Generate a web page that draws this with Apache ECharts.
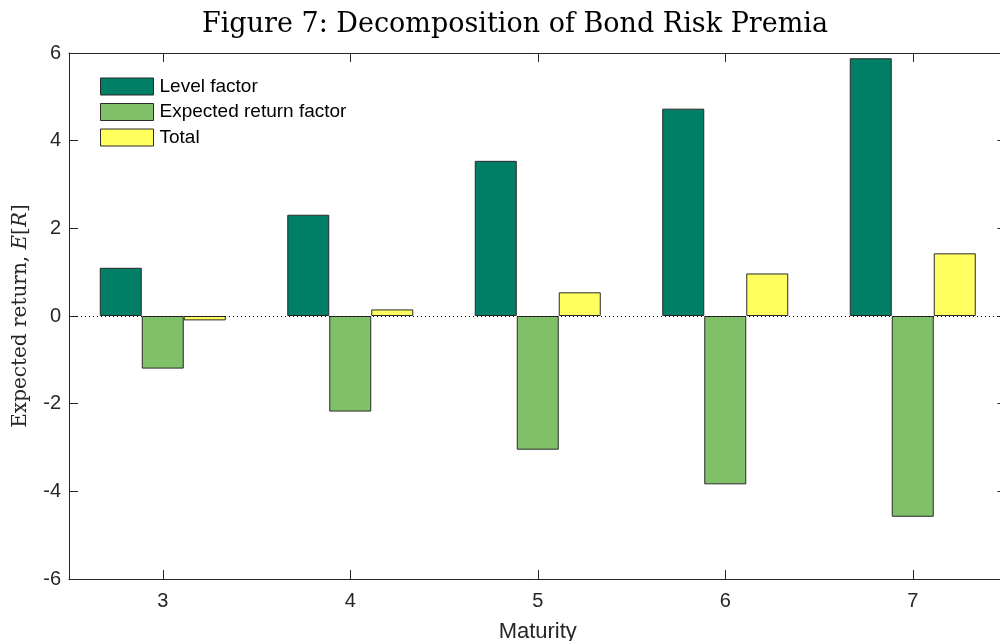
<!DOCTYPE html>
<html><head><meta charset="utf-8">
<script src="https://cdn.jsdelivr.net/npm/echarts@6/dist/echarts.min.js"></script>
<style>html,body{margin:0;padding:0;background:#fff}#c{width:1000px;height:641px}</style>
</head><body><div id="c"></div>
<script>
const categories = ['3','4','5','6','7'];
const levelFactor = [1.10, 2.31, 3.54, 4.73, 5.88];
const expectedReturnFactor = [-1.20, -2.18, -3.05, -3.84, -4.58];
const total = [-0.10, 0.15, 0.54, 0.97, 1.43];
const yTicks = [-6, -4, -2, 0, 2, 4, 6];

const chart = echarts.init(document.getElementById('c'), null, {renderer: 'canvas'});
const axisColor = '#262626';
const barBorder = {borderColor: '#2a2a2a', borderWidth: 1};
const tick = {show: true, inside: true, length: 9, lineStyle: {color: axisColor, width: 1}};
chart.setOption({
  animation: false,
  backgroundColor: '#fff',
  title: {
    text: 'Figure 7: Decomposition of Bond Risk Premia',
    left: 510, top: 6, textAlign: 'center',
    textStyle: {fontFamily: 'DejaVu Serif', fontWeight: 'normal', fontSize: 27, color: '#000'}
  },
  legend: {
    orient: 'vertical', left: 100, top: 77, padding: 0,
    itemWidth: 53, itemHeight: 17, itemGap: 6.5,
    icon: 'rect',
    itemStyle: {borderWidth: 1, borderColor: '#2a2a2a'},
    textStyle: {fontFamily: 'Liberation Sans', fontSize: 19, color: '#000', lineHeight: 17, padding: [0,0,0,1]},
    data: ['Level factor', 'Expected return factor', 'Total']
  },
  grid: {left: 69, right: -6.5, top: 53, bottom: 62, containLabel: false, outerBoundsMode: 'none'},
  xAxis: [{
    type: 'category', data: categories, position: 'bottom',
    name: 'Maturity', nameLocation: 'middle', nameGap: 42,
    nameTextStyle: {fontFamily: 'Liberation Sans', fontSize: 22, color: axisColor},
    axisLine: {show: true, onZero: false, lineStyle: {color: axisColor, width: 1}},
    axisTick: Object.assign({alignWithLabel: true}, tick),
    axisLabel: {fontFamily: 'Liberation Sans', fontSize: 20, color: axisColor, margin: 12},
    splitLine: {show: false}
  }, {
    type: 'category', data: categories, position: 'top',
    axisLine: {show: true, onZero: false, lineStyle: {color: axisColor, width: 1}},
    axisTick: Object.assign({alignWithLabel: true}, tick),
    axisLabel: {show: false}, splitLine: {show: false}
  }],
  yAxis: [{
    type: 'value', min: -6, max: 6, interval: 2, position: 'left',
    name: '{n|Expected return, }{i|E}{n|[}{i|R}{n|]}',
    nameLocation: 'middle', nameGap: 38, nameRotate: 90,
    nameTextStyle: {
      rich: {
        n: {fontFamily: 'DejaVu Serif', fontSize: 20, color: axisColor},
        i: {fontFamily: 'DejaVu Serif', fontStyle: 'italic', fontSize: 20, color: axisColor}
      }
    },
    axisLine: {show: true, onZero: false, lineStyle: {color: axisColor, width: 1}},
    axisTick: tick,
    axisLabel: {fontFamily: 'Liberation Sans', fontSize: 20, color: axisColor, margin: 8,
      formatter: v => yTicks.includes(v) ? String(v) : ''},
    splitLine: {show: false}
  }, {
    type: 'value', min: -6, max: 6, interval: 2, position: 'right',
    axisLine: {show: true, onZero: false, lineStyle: {color: axisColor, width: 1}},
    axisTick: tick,
    axisLabel: {show: false}, splitLine: {show: false}
  }],
  series: [{
    name: 'Level factor', type: 'bar', data: levelFactor, barWidth: 42, barGap: '0%',
    itemStyle: Object.assign({color: '#007f66'}, barBorder),
    markLine: {
      silent: true, symbol: 'none', label: {show: false},
      lineStyle: {type: [1, 3], color: '#000', width: 1},
      data: [{yAxis: 0}]
    }
  }, {
    name: 'Expected return factor', type: 'bar', data: expectedReturnFactor, barWidth: 42, barGap: '0%',
    itemStyle: Object.assign({color: '#80c068'}, barBorder)
  }, {
    name: 'Total', type: 'bar', data: total, barWidth: 42, barGap: '0%',
    itemStyle: Object.assign({color: '#ffff60'}, barBorder)
  }]
});
</script></body></html>
